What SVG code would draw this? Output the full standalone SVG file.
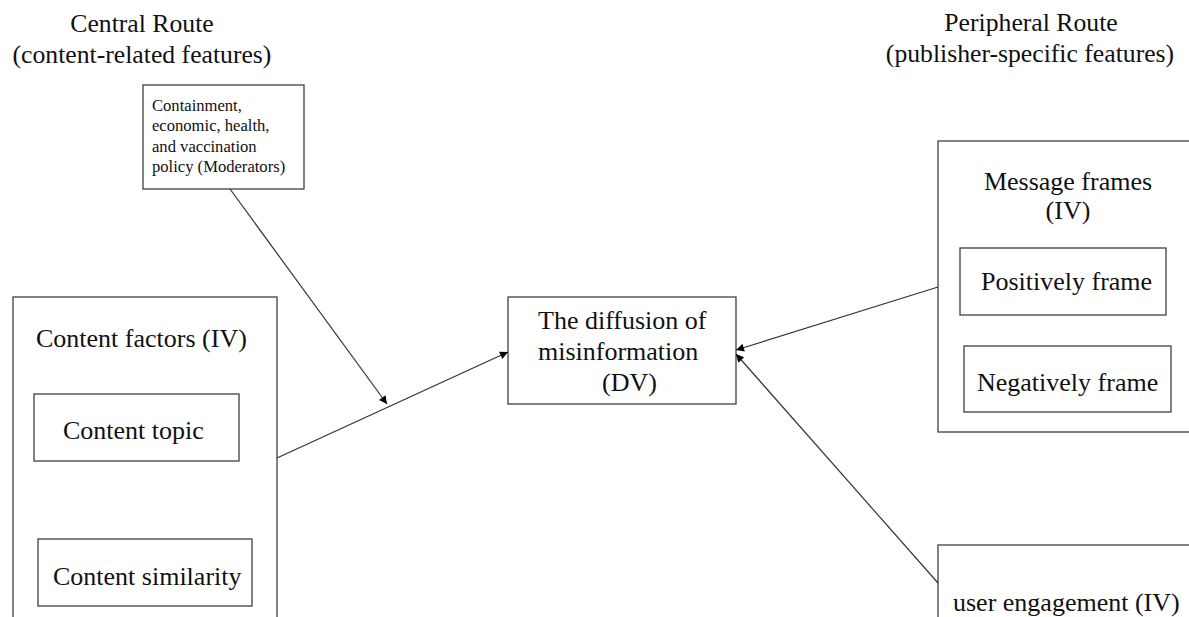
<svg xmlns="http://www.w3.org/2000/svg" width="1189" height="617" viewBox="0 0 1189 617">
  <style>
    .box { fill: #ffffff; stroke: #404040; stroke-width: 1.3; }
    text { font-family: 'Liberation Serif', 'DejaVu Serif', serif; fill: #111111; }
    .lbl { font-size: 26px; }
    .ttl { font-size: 25.7px; text-anchor: middle; }
    .small { font-size: 16.6px; }
    .edge { fill: none; stroke: #333333; stroke-width: 1.2; }
  </style>
  <defs>
    <marker id="arrow" viewBox="0 0 10 10" refX="10" refY="5" markerWidth="10" markerHeight="8" markerUnits="userSpaceOnUse" orient="auto">
      <path d="M0,0 L10,5 L0,10 z" fill="#000000"/>
    </marker>
  </defs>
  <rect width="1189" height="617" fill="#ffffff"/>

  <!-- route headings -->
  <g id="central-route">
    <text class="ttl" x="142" y="32">Central Route</text>
    <text class="ttl" x="142" y="62.5">(content-related features)</text>
  </g>
  <g id="peripheral-route">
    <text class="ttl" x="1031" y="31">Peripheral Route</text>
    <text class="ttl" x="1030" y="62">(publisher-specific features)</text>
  </g>

  <!-- moderators -->
  <g id="moderators">
    <rect class="box" x="143" y="85" width="161" height="104"/>
    <text class="small" x="152" y="110.5">Containment,</text>
    <text class="small" x="152" y="131">economic, health,</text>
    <text class="small" x="152" y="151.5">and vaccination</text>
    <text class="small" x="152" y="172">policy (Moderators)</text>
  </g>

  <!-- content factors -->
  <g id="content-factors">
    <rect class="box" x="13" y="297" width="264" height="340"/>
    <text class="lbl" x="36" y="347">Content factors (IV)</text>
  </g>
  <g id="content-topic">
    <rect class="box" x="34" y="394" width="205" height="67"/>
    <text class="lbl" x="63" y="438.5">Content topic</text>
  </g>
  <g id="content-similarity">
    <rect class="box" x="38" y="539" width="214" height="67"/>
    <text class="lbl" x="53" y="585">Content similarity</text>
  </g>

  <!-- dependent variable -->
  <g id="diffusion">
    <rect class="box" x="508" y="297" width="228" height="107"/>
    <text class="lbl" x="538" y="329">The diffusion of</text>
    <text class="lbl" x="538" y="360">misinformation</text>
    <text class="lbl" x="602" y="391">(DV)</text>
  </g>

  <!-- message frames -->
  <g id="message-frames">
    <rect class="box" x="938" y="141" width="270" height="291"/>
    <text class="lbl" x="1068" y="190" text-anchor="middle">Message frames</text>
    <text class="lbl" x="1068" y="219" text-anchor="middle">(IV)</text>
  </g>
  <g id="positively-frame">
    <rect class="box" x="960" y="248" width="206" height="67"/>
    <text class="lbl" x="981" y="290">Positively frame</text>
  </g>
  <g id="negatively-frame">
    <rect class="box" x="964" y="346" width="207" height="66"/>
    <text class="lbl" x="977" y="391">Negatively frame</text>
  </g>

  <!-- user engagement -->
  <g id="user-engagement">
    <rect class="box" x="938" y="545" width="270" height="100"/>
    <text class="lbl" x="953" y="611">user engagement (IV)</text>
  </g>

  <!-- connectors -->
  <g id="connectors">
    <line class="edge" x1="277" y1="458" x2="508" y2="352" marker-end="url(#arrow)"/>
    <line class="edge" x1="230" y1="189" x2="387" y2="404" marker-end="url(#arrow)"/>
    <line class="edge" x1="938" y1="287" x2="736" y2="350" marker-end="url(#arrow)"/>
    <line class="edge" x1="938" y1="583" x2="736" y2="354" marker-end="url(#arrow)"/>
  </g>
</svg>
